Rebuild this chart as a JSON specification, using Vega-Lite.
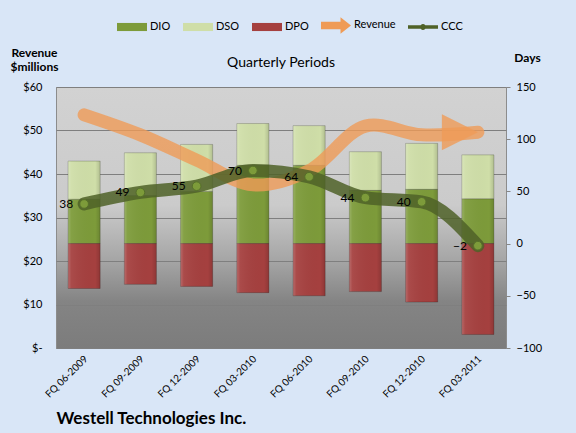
{
  "$schema": "https://vega.github.io/schema/vega-lite/v6.json",
  "autosize": {"type": "none"},
  "width": 450,
  "height": 261,
  "padding": {"left": 56, "top": 87, "right": 70, "bottom": 85},
  "background": "#d9e6f7",
  "title": {
    "text": "Quarterly Periods",
    "fontSize": 14,
    "fontWeight": "normal",
    "font": "Lato",
    "color": "#000000",
    "anchor": "middle",
    "dy": 64
  },
  "datasets": {
    "bars": [
      {"period": "FQ 06-2009", "metric": "DIO", "days": 42.5},
      {"period": "FQ 06-2009", "metric": "DSO", "days": 36.5},
      {"period": "FQ 06-2009", "metric": "DPO", "days": -43},
      {"period": "FQ 09-2009", "metric": "DIO", "days": 46},
      {"period": "FQ 09-2009", "metric": "DSO", "days": 41},
      {"period": "FQ 09-2009", "metric": "DPO", "days": -39},
      {"period": "FQ 12-2009", "metric": "DIO", "days": 50},
      {"period": "FQ 12-2009", "metric": "DSO", "days": 45},
      {"period": "FQ 12-2009", "metric": "DPO", "days": -41},
      {"period": "FQ 03-2010", "metric": "DIO", "days": 75},
      {"period": "FQ 03-2010", "metric": "DSO", "days": 40},
      {"period": "FQ 03-2010", "metric": "DPO", "days": -47},
      {"period": "FQ 06-2010", "metric": "DIO", "days": 75},
      {"period": "FQ 06-2010", "metric": "DSO", "days": 38},
      {"period": "FQ 06-2010", "metric": "DPO", "days": -50},
      {"period": "FQ 09-2010", "metric": "DIO", "days": 51},
      {"period": "FQ 09-2010", "metric": "DSO", "days": 37},
      {"period": "FQ 09-2010", "metric": "DPO", "days": -46},
      {"period": "FQ 12-2010", "metric": "DIO", "days": 52},
      {"period": "FQ 12-2010", "metric": "DSO", "days": 44},
      {"period": "FQ 12-2010", "metric": "DPO", "days": -56},
      {"period": "FQ 03-2011", "metric": "DIO", "days": 43},
      {"period": "FQ 03-2011", "metric": "DSO", "days": 42},
      {"period": "FQ 03-2011", "metric": "DPO", "days": -87}
    ],
    "lines": [
      {"period": "FQ 06-2009", "revenue": 53.6, "ccc": 38},
      {"period": "FQ 09-2009", "revenue": 49, "ccc": 49},
      {"period": "FQ 12-2009", "revenue": 43.2, "ccc": 55},
      {"period": "FQ 03-2010", "revenue": 37.5, "ccc": 70},
      {"period": "FQ 06-2010", "revenue": 40.8, "ccc": 64},
      {"period": "FQ 09-2010", "revenue": 51, "ccc": 44},
      {"period": "FQ 12-2010", "revenue": 49, "ccc": 40},
      {"period": "FQ 03-2011", "revenue": 49.6, "ccc": -2}
    ]
  },
  "encoding": {
    "x": {
      "field": "period",
      "type": "nominal",
      "sort": null,
      "scale": {"paddingInner": 0.43, "paddingOuter": 0.215},
      "axis": {
        "labelAngle": -45,
        "labelAlign": "right",
        "labelBaseline": "middle",
        "labelPadding": 9,
        "labelOffset": 2,
        "labelFontSize": 10,
        "ticks": false,
        "domain": false,
        "title": "Westell Technologies Inc.",
        "titleFontSize": 17,
        "titleFontWeight": "bold",
        "titleAnchor": "start",
        "titleAlign": "left",
        "titleBaseline": "alphabetic",
        "titleX": 0,
        "titleY": 75
      }
    }
  },
  "layer": [
    {
      "data": {"name": "bars"},
      "transform": [{"filter": "false"}],
      "mark": {"type": "point", "filled": true, "opacity": 1},
      "encoding": {
        "color": {
          "field": "metric",
          "type": "nominal",
          "scale": {
            "domain": ["DIO", "DSO", "DPO", "Revenue", "CCC"],
            "range": ["#7d9b3a", "#cfdea8", "#a5403f", "#ef9b57", "#4f6228"]
          },
          "legend": {
            "title": null,
            "orient": "none",
            "direction": "horizontal",
            "legendX": 61,
            "legendY": -77,
            "symbolSize": 900,
            "symbolStrokeWidth": 0,
            "labelFontSize": 11,
            "labelOffset": 3,
            "columnPadding": 12
          }
        },
        "shape": {
          "field": "metric",
          "type": "nominal",
          "scale": {
            "domain": ["DIO", "DSO", "DPO", "Revenue", "CCC"],
            "range": [
              "M-1,-0.27H1V0.27H-1Z",
              "M-1,-0.27H1V0.27H-1Z",
              "M-1,-0.27H1V0.27H-1Z",
              "M-1,-0.25H0.3V-0.55L1,0L0.3,0.55V0.25H-1Z",
              "M-1,-0.12H1V0.12H-1Z M0.2,0 A0.2,0.2 0 1,1 -0.2,0 A0.2,0.2 0 1,1 0.2,0Z"
            ]
          },
          "legend": {
            "title": null,
            "orient": "none",
            "direction": "horizontal",
            "legendX": 61,
            "legendY": -77,
            "symbolSize": 900,
            "symbolStrokeWidth": 0,
            "labelFontSize": 11,
            "labelOffset": 3,
            "columnPadding": 12
          }
        }
      }
    },
    {
      "data": {"name": "bars"},
      "mark": {"type": "bar", "stroke": "#000000", "strokeOpacity": 0.2, "strokeWidth": 1},
      "encoding": {
        "y": {
          "field": "days",
          "type": "quantitative",
          "scale": {"domain": [-100, 150], "nice": false, "zero": false},
          "axis": {
            "orient": "right",
            "values": [-100, -50, 0, 50, 100, 150],
            "grid": false,
            "domain": false,
            "tickSize": 4,
            "tickColor": "#868686",
            "labelPadding": 6,
            "labelFontSize": 11,
            "title": "Days",
            "titleAngle": 0,
            "titleFontSize": 12,
            "titleFontWeight": "bold",
            "titleAlign": "center",
            "titleBaseline": "alphabetic",
            "titleX": 21,
            "titleY": -26
          }
        },
        "order": {"field": "metric", "sort": "ascending"},
        "color": {"field": "metric", "type": "nominal", "legend": null}
      }
    },
    {
      "data": {"name": "bars"},
      "mark": {
        "type": "bar",
        "color": {
          "gradient": "linear",
          "x1": 0, "y1": 0, "x2": 1, "y2": 0,
          "stops": [
            {"offset": 0, "color": "rgba(255,255,255,0.22)"},
            {"offset": 0.1, "color": "rgba(255,255,255,0.06)"},
            {"offset": 0.85, "color": "rgba(0,0,0,0)"},
            {"offset": 1, "color": "rgba(0,0,0,0.14)"}
          ]
        }
      },
      "encoding": {
        "y": {
          "field": "days",
          "type": "quantitative",
          "scale": {"domain": [-100, 150], "nice": false, "zero": false},
          "axis": null
        },
        "order": {"field": "metric", "sort": "ascending"},
        "detail": {"field": "metric", "type": "nominal"}
      }
    },
    {
      "data": {"name": "lines"},
      "layer": [
        {
          "mark": {"type": "line", "interpolate": "catmull-rom", "strokeWidth": 13, "color": "#ef9b57", "opacity": 0.8, "strokeCap": "round"},
          "encoding": {
            "y": {
              "field": "revenue",
              "type": "quantitative",
              "scale": {"domain": [0, 60], "nice": false},
              "axis": {
                "orient": "left",
                "values": [0, 10, 20, 30, 40, 50, 60],
                "labelExpr": "datum.value === 0 ? '$-' : '$' + datum.value",
                "grid": true,
                "gridColor": "#7f7f7f",
                "gridWidth": 1,
                "ticks": false,
                "domain": false,
                "labelPadding": 14,
                "labelFontSize": 11,
                "title": ["Revenue", "$millions"],
                "titleAngle": 0,
                "titleFontSize": 12,
                "titleFontWeight": "bold",
                "titleAlign": "center",
                "titleBaseline": "alphabetic",
                "titleLineHeight": 14,
                "titleX": -22,
                "titleY": -31
              }
            }
          }
        },
        {
          "transform": [{"filter": "datum.period === 'FQ 03-2011'"}],
          "mark": {"type": "point", "shape": "M-1,-1L1,0L-1,1Z", "size": 1300, "filled": true, "color": "#ef9b57", "opacity": 0.8, "xOffset": -18},
          "encoding": {
            "y": {"field": "revenue", "type": "quantitative"}
          }
        }
      ]
    },
    {
      "data": {"name": "lines"},
      "layer": [
        {
          "mark": {"type": "line", "interpolate": "monotone", "strokeWidth": 13, "color": "#4f6228", "opacity": 0.85, "strokeCap": "round"},
          "encoding": {
            "y": {
              "field": "ccc",
              "type": "quantitative",
              "scale": {"domain": [-100, 150], "nice": false, "zero": false},
              "axis": null
            }
          }
        },
        {
          "mark": {"type": "point", "filled": true, "size": 75, "color": "#7d9b3a", "stroke": "#56702a", "strokeWidth": 1, "opacity": 1},
          "encoding": {
            "y": {"field": "ccc", "type": "quantitative", "axis": null}
          }
        },
        {
          "mark": {"type": "text", "align": "right", "baseline": "middle", "dx": -11, "fontSize": 12, "color": "#000000"},
          "encoding": {
            "y": {"field": "ccc", "type": "quantitative", "axis": null},
            "text": {"field": "ccc", "type": "quantitative"}
          }
        }
      ]
    }
  ],
  "resolve": {"scale": {"y": "independent"}},
  "view": {
    "stroke": "#8c8c8c",
    "fill": {
      "gradient": "linear",
      "x1": 0, "y1": 0, "x2": 0, "y2": 1,
      "stops": [
        {"offset": 0, "color": "#d2d2d2"},
        {"offset": 0.45, "color": "#cbcbcb"},
        {"offset": 0.67, "color": "#a4a4a4"},
        {"offset": 0.82, "color": "#848484"},
        {"offset": 1, "color": "#7c7c7c"}
      ]
    }
  },
  "config": {
    "font": "Lato",
    "axis": {"labelColor": "#000000", "titleColor": "#000000"},
    "legend": {"labelColor": "#000000"}
  }
}
